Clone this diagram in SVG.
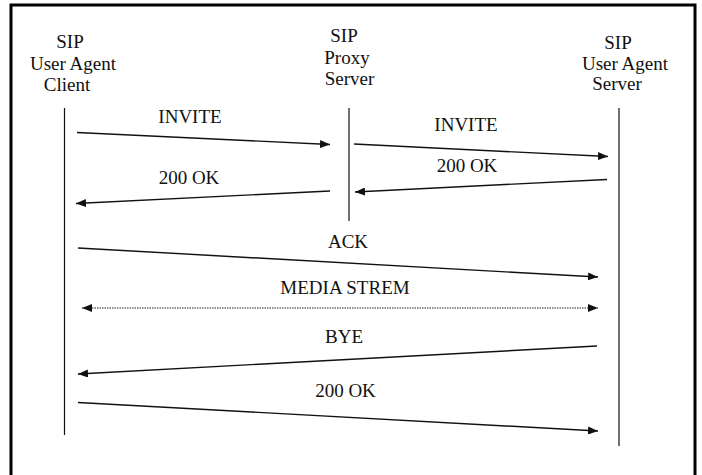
<svg xmlns="http://www.w3.org/2000/svg" width="702" height="475" viewBox="0 0 702 475">
  <style>
    text { font-family: "Liberation Serif", "Times New Roman", serif; font-size: 19px; fill: #111; text-anchor: middle; }
    .life { stroke: #111; stroke-width: 1.2; fill: none; }
    .msg { stroke: #111; stroke-width: 1.4; fill: none; marker-end: url(#head); }
    .stream { stroke: #222; stroke-width: 1; stroke-dasharray: 1.5 1; fill: none; marker-start: url(#headStart); marker-end: url(#head); }
  </style>
  <defs>
    <marker id="head" viewBox="0 0 10 8" refX="10" refY="4" markerWidth="10" markerHeight="8" markerUnits="userSpaceOnUse" orient="auto">
      <path d="M0,0 L10,4 L0,8 Z" fill="#111"/>
    </marker>
    <marker id="headStart" viewBox="0 0 10 8" refX="0" refY="4" markerWidth="10" markerHeight="8" markerUnits="userSpaceOnUse" orient="auto">
      <path d="M10,0 L0,4 L10,8 Z" fill="#111"/>
    </marker>
  </defs>

  <rect x="0" y="0" width="702" height="475" fill="#fff"/>
  <!-- outer frame (open at the bottom edge) -->
  <rect x="11" y="5" width="684" height="480" fill="none" stroke="#000" stroke-width="3"/>

  <g id="uac">
    <text x="70" y="48">SIP</text>
    <text x="73" y="70">User Agent</text>
    <text x="67" y="91">Client</text>
    <line class="life" x1="64.5" y1="108" x2="64.5" y2="435"/>
  </g>

  <g id="proxy">
    <text x="344" y="42">SIP</text>
    <text x="347" y="64">Proxy</text>
    <text x="349.5" y="85">Server</text>
    <line class="life" x1="349" y1="108" x2="349" y2="221"/>
  </g>

  <g id="uas">
    <text x="618" y="49">SIP</text>
    <text x="625" y="70">User Agent</text>
    <text x="617" y="90">Server</text>
    <line class="life" x1="619" y1="108" x2="619" y2="446"/>
  </g>

  <g id="messages">
    <line class="msg" x1="77" y1="132.5" x2="330" y2="144.5"/>
    <text x="190" y="123">INVITE</text>

    <line class="msg" x1="354" y1="144" x2="608" y2="156.5"/>
    <text x="466" y="131">INVITE</text>

    <line class="msg" x1="607" y1="179.5" x2="355" y2="192"/>
    <text x="467" y="172">200 OK</text>

    <line class="msg" x1="330" y1="191" x2="76" y2="203.5"/>
    <text x="189" y="184">200 OK</text>

    <line class="msg" x1="78" y1="248" x2="598" y2="277"/>
    <text x="348" y="248">ACK</text>

    <line class="stream" x1="82" y1="308" x2="598" y2="308"/>
    <text x="345" y="294">MEDIA STREM</text>

    <line class="msg" x1="597" y1="346" x2="78" y2="374"/>
    <text x="344" y="343">BYE</text>

    <line class="msg" x1="78" y1="402.5" x2="598" y2="431"/>
    <text x="345.5" y="397">200 OK</text>
  </g>
</svg>
